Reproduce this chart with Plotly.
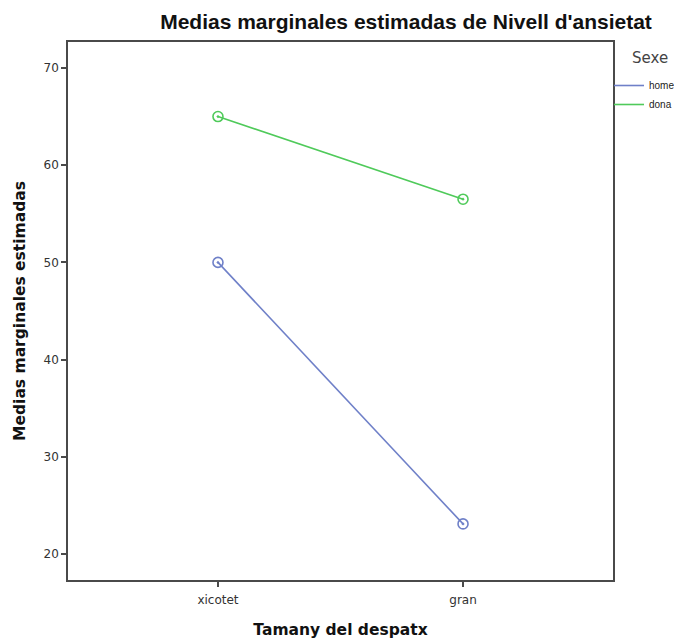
import plotly.graph_objects as go

categories = ["xicotet", "gran"]
series_names = ["home", "dona"]
home_values = [50.0, 23.1]
dona_values = [65.0, 56.5]
y_ticks = [20, 30, 40, 50, 60, 70]

colors = {"home": "#6f80c8", "dona": "#4fca5a"}
values = {"home": home_values, "dona": dona_values}

fig = go.Figure()
for name in series_names:
    fig.add_trace(go.Scatter(
        x=categories, y=values[name], mode="lines", name=name,
        line=dict(color=colors[name], width=1.6), showlegend=True,
    ))
for name in series_names:
    fig.add_trace(go.Scatter(
        x=categories, y=values[name], mode="markers", name=name,
        marker=dict(symbol="circle-open-dot", size=10, color=colors[name],
                    line=dict(width=1.6, color=colors[name])),
        showlegend=False,
    ))

# the page body adds an 8px offset, so the figure is 8px smaller on each axis
W, H = 674, 634
PL, PT, PW, PH = 60, 34, 545, 538
axis_color = "#4a4a4a"
fig.update_layout(
    width=W, height=H,
    margin=dict(l=PL, r=W - PL - PW, t=PT, b=H - PT - PH, autoexpand=False),
    plot_bgcolor="white", paper_bgcolor="white",
    font=dict(family="DejaVu Sans, sans-serif", color="#222222"),
    title=dict(text="<b>Medias marginales estimadas de Nivell d'ansietat</b>",
               x=398 / W, xanchor="center", y=1 - 14 / H, yanchor="middle",
               font=dict(family="Liberation Sans, Arial, sans-serif", size=21, color="#111111")),
    xaxis=dict(
        type="category", range=[-0.612, 1.612],
        showline=True, linecolor=axis_color, linewidth=1.5, mirror=True,
        ticks="outside", ticklen=5, tickcolor=axis_color, tickwidth=1.5,
        ticklabelstandoff=3,
        showgrid=False, zeroline=False,
        tickfont=dict(size=12, color="#333333"),
        title=dict(text="<b>Tamany del despatx</b>", font=dict(size=15.5, color="#111111"),
                   standoff=18),
    ),
    yaxis=dict(
        range=[17.33, 72.67], tickvals=y_ticks,
        showline=True, linecolor=axis_color, linewidth=1.5, mirror=True,
        ticks="outside", ticklen=5, tickcolor=axis_color, tickwidth=1.5,
        showgrid=False, zeroline=False,
        tickfont=dict(size=12, color="#333333"),
        title=dict(text="<b>Medias marginales estimadas</b>", font=dict(size=15.5, color="#111111"),
                   standoff=14),
    ),
    legend=dict(
        x=1 - 4 / PW, xanchor="left", y=1 - (63 - PT) / PH, yanchor="top",
        font=dict(family="Liberation Sans, Arial, sans-serif", size=10, color="#222222"),
        bgcolor="rgba(0,0,0,0)", tracegroupgap=0, itemwidth=30,
    ),
    annotations=[dict(
        text="Sexe", xref="paper", yref="paper",
        x=(642 - PL) / PW, y=1 - (50 - PT) / PH, xanchor="center", yanchor="middle",
        showarrow=False, font=dict(size=15, color="#444444"),
    )],
)

fig.write_html("out.html")
